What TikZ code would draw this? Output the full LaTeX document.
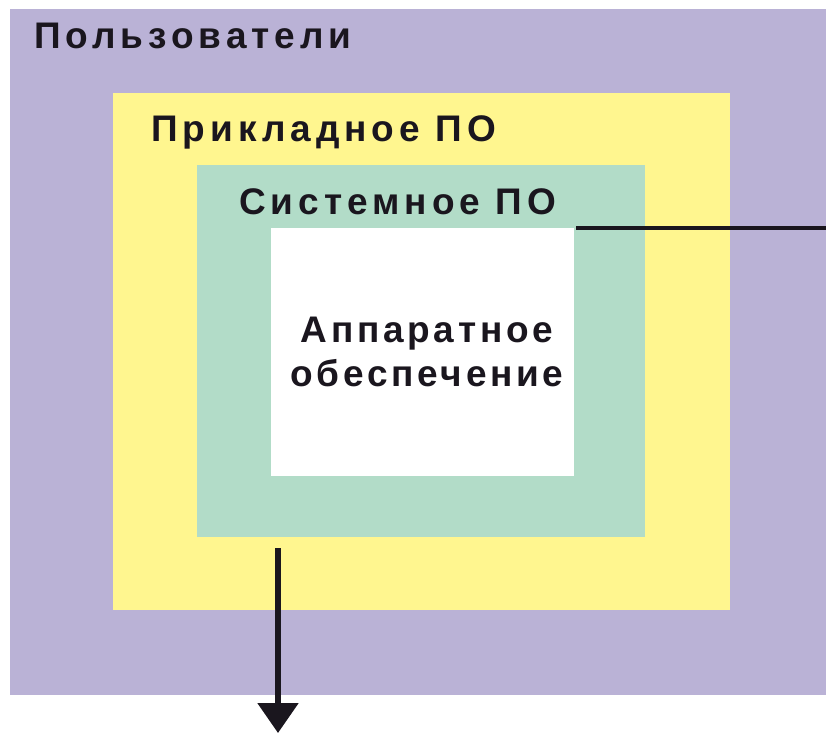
\documentclass[tikz,border=0pt]{standalone}
\usepackage{fontspec}
\setmainfont{Liberation Sans}
\usetikzlibrary{arrows.meta}
\definecolor{usersbg}{RGB}{186,178,214}
\definecolor{appbg}{RGB}{255,246,143}
\definecolor{sysbg}{RGB}{178,220,200}
\definecolor{ink}{RGB}{26,22,30}
\newfontfamily\lblfont[LetterSpace=13.5]{Liberation Sans Bold}
\newfontfamily\hwfont[LetterSpace=10]{Liberation Sans Bold}
\begin{document}
\begin{tikzpicture}[x=1pt,y=-1pt,
  lbl/.style={font=\lblfont\fontsize{37}{44}\selectfont,text=ink,anchor=west,inner sep=0pt},
  wire/.style={draw=ink,line width=4.5pt}]
  \useasboundingbox (0,0) rectangle (826,733);
  % nested layers, outermost first
  \fill[white] (0,0) rectangle (826,733);
  \path[fill=usersbg] (10,9) rectangle (826,695);
  \fill[appbg] (113,93) rectangle (730,610);
  \fill[sysbg] (197,165) rectangle (645,537);
  \fill[white] (271,228) rectangle (574,476);
  \coordinate (hwNE) at (576,228);
  \coordinate (rim) at (826,228);
  \coordinate (arrTop) at (278,548);
  \coordinate (arrEnd) at (278,733);
  % labels
  \node[lbl] (tUsers) at (34,36) {Пользователи};
  \node[lbl] (tApp) at (151,132) {Прикладное ПО};
  \node[lbl] (tSys) at (239,202) {Системное ПО};
  \node[lbl,font=\hwfont\fontsize{37}{44}\selectfont,anchor=center,align=center] (tHw) at (427,352) {Аппаратное\\обеспечение};
  % connectors
  \draw[wire] (hwNE) -- (rim);
  \draw[wire,line width=5.5pt,-{Triangle[length=30pt,width=40pt]}] (arrTop) -- (arrEnd);
\end{tikzpicture}
\end{document}
